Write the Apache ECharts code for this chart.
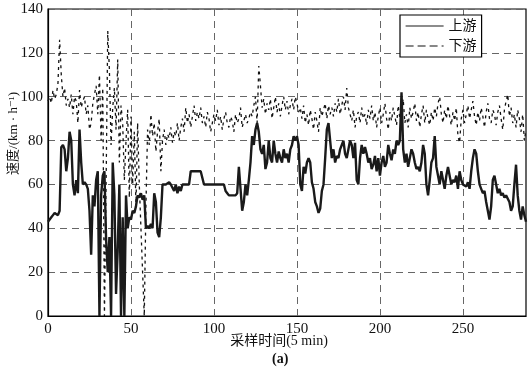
<!DOCTYPE html>
<html>
<head>
<meta charset="utf-8">
<script src="https://cdn.jsdelivr.net/npm/echarts@6/dist/echarts.min.js"></script>
<style>
  html, body { margin: 0; padding: 0; background: #fff; }
  #main { width: 532px; height: 373px; }
</style>
</head>
<body>
<div id="main"></div>
<script>
// sample index 0..288 (5 min steps)
const samples = [];
for (let i = 0; i <= 288; i++) samples.push(i);

// upstream speed (km/h)
const upstream = [
  43, 44, 45, 46, 47, 47, 46, 48, 77, 78, 76,
  66, 72, 84, 80, 60, 55, 62, 56, 85, 70,
  60, 61, 60, 58, 48, 28, 55, 50, 62, 66,
  0, 55, 64, 66, 35, 20, 36, 0, 70, 55,
  10, 30, 60, 0, 45, 0, 55, 40, 45, 44,
  48, 47, 50, 55, 54, 56, 53, 55, 40, 41,
  40, 42, 40, 56, 52, 38, 36, 45, 60, 60,
  60, 60, 61, 60, 60, 57, 60, 56, 59, 57,
  60, 60, 60, 60, 60, 66, 66, 66, 66, 66,
  66, 66, 66, 60, 60, 60, 60, 60, 60, 60,
  60, 60, 60, 60, 60, 60, 57, 56, 55, 55,
  55, 55, 55, 56, 68, 58, 48, 52, 60, 55,
  62, 70, 82, 78, 85, 88, 84, 76, 74, 78,
  67, 70, 80, 72, 70, 80, 74, 70, 75, 72,
  70, 76, 72, 74, 70, 76, 78, 82, 80, 82,
  78, 60, 57, 68, 65, 70, 72, 70, 61, 58,
  52, 50, 47, 49, 57, 60, 72, 85, 88, 80,
  72, 76, 70, 73, 72, 76, 78, 80, 74, 72,
  76, 80, 78, 72, 79, 62, 60, 72, 78, 74,
  77, 74, 70, 72, 67, 69, 73, 66, 72, 64,
  70, 73, 68, 70, 78, 74, 71, 76, 74, 80,
  78, 80, 102, 76, 70, 74, 68, 72, 76, 74,
  70, 67, 68, 66, 70, 78, 74, 60, 55, 62,
  70, 72, 82, 68, 64, 60, 66, 62, 58, 64,
  68, 64, 60, 62, 61, 64, 58, 66, 62, 60,
  60, 59, 61, 58, 66, 72, 76, 74, 66, 60,
  58, 56, 57, 52, 48, 44, 50, 62, 64, 60,
  56, 58, 55, 56, 54, 55, 55, 52, 48, 50,
  60, 69, 55, 48, 44, 50, 46, 43
];

// downstream speed (km/h)
const downstream = [
  98, 100, 97, 103, 99, 101, 106, 126, 110, 100, 104,
  96, 99, 95, 101, 92, 100, 98, 88, 103, 95,
  98, 100, 92, 96, 85, 88, 97, 101, 105, 92,
  110, 80, 104, 0, 60, 130, 112, 78, 95, 104,
  85, 117, 70, 96, 88, 62, 80, 94, 54, 91,
  60, 84, 50, 88, 60, 40, 20, 0, 50, 85,
  78, 92, 82, 88, 75, 84, 90, 66, 80, 85,
  78, 83, 81, 86, 79, 84, 82, 88, 80, 86,
  90, 84, 95, 88, 92, 86, 91, 96, 89, 93,
  90, 95, 88, 91, 86, 93, 90, 84, 88, 92,
  89, 94, 87, 91, 85, 90, 93, 88, 86, 91,
  89, 84, 92, 88, 90, 95, 86, 89, 92, 88,
  90, 93, 91, 96, 100, 88, 114, 105, 95, 99,
  92, 97, 94, 99, 90, 95, 100, 93, 97, 91,
  96, 100, 94, 98, 92, 96, 99, 94, 100, 97,
  93, 95, 90, 96, 88, 92, 87, 94, 90, 85,
  93, 89, 84, 95, 91, 94, 97, 90, 96, 92,
  95, 91, 97, 93, 99, 92, 96, 100, 94, 104,
  95, 92, 89, 94, 86, 91, 93, 88, 95, 90,
  92, 87, 94, 90, 96, 89, 93, 86, 91, 95,
  88, 92, 97, 90, 85, 93, 89, 95, 91, 87,
  96, 90, 94, 99, 88, 92, 86, 95, 90, 93,
  97, 89, 93, 86, 92, 96, 88, 94, 90, 87,
  93, 89, 95, 91, 97, 100, 92, 88, 94, 90,
  96, 91, 87, 93, 89, 95, 82, 79, 90, 94,
  88, 92, 96, 90, 94, 98, 91, 87, 93, 89,
  95, 91, 86, 93, 97, 90, 88, 94, 92, 87,
  93, 96, 90, 85, 94, 98, 101, 91, 95, 88,
  92, 86, 94, 90, 84, 92, 80, 85
];

const font = "'Liberation Serif', 'DejaVu Serif', 'Noto Sans CJK SC', serif";

const options = {
  animation: false,
  backgroundColor: "#fff",
  textStyle: { fontFamily: font, color: "#111" },
  title: {
    text: "(a)",
    left: 267,
    top: 347,
    textStyle: { fontFamily: font, fontSize: 14, fontWeight: "bold", color: "#111" },
  },
  grid: {
    left: 48, right: 6, top: 9, bottom: 57,
    containLabel: false,
    outerBoundsMode: "none",
    show: true, borderColor: "#000", borderWidth: 1.2,
  },
  legend: {
    show: true,
    orient: "vertical",
    left: 400,
    top: 15,
    padding: [4, 5],
    itemGap: 6,
    itemWidth: 38,
    itemHeight: 12,
    backgroundColor: "#fff",
    borderColor: "#000",
    borderWidth: 1.2,
    borderRadius: 0,
    itemStyle: { opacity: 0 },
    textStyle: { fontFamily: font, fontSize: 14, color: "#111" },
    data: [
      { name: "上游", lineStyle: { type: "solid", width: 1.2 } },
      { name: "下游", lineStyle: { type: [8, 4], width: 1.2 } },
    ],
  },
  xAxis: {
    type: "value",
    min: 0,
    max: 288,
    interval: 50,
    name: "采样时间(5 min)",
    nameLocation: "middle",
    nameGap: 18,
    nameMoveOverlap: false,
    nameTextStyle: { fontFamily: font, fontSize: 14, color: "#111", padding: [0, 16, 0, 0] },
    axisLine: { show: true, lineStyle: { color: "#000", width: 1.2 } },
    axisTick: { show: false },
    axisLabel: { fontFamily: font, fontSize: 15, color: "#111", margin: 6, showMaxLabel: false },
    splitLine: { show: true, lineStyle: { color: "#666", type: [7, 5], width: 1 } },
  },
  yAxis: {
    type: "value",
    min: 0,
    max: 140,
    interval: 20,
    name: "速度/(km · h⁻¹)",
    nameLocation: "middle",
    nameGap: 28,
    nameMoveOverlap: false,
    nameTextStyle: { fontFamily: font, fontSize: 13, color: "#111", padding: [0, 0, 0, 58] },
    axisLine: { show: true, lineStyle: { color: "#000", width: 1.2 } },
    axisTick: { show: false },
    axisLabel: { fontFamily: font, fontSize: 15, color: "#111", margin: 5 },
    splitLine: { show: true, lineStyle: { color: "#666", type: [7, 5], width: 1 } },
  },
  series: [
    {
      name: "上游",
      type: "line",
      symbol: "none",
      data: samples.map((x, i) => [x, upstream[i]]),
      lineStyle: { color: "#1a1a1a", width: 2.4 },
      itemStyle: { color: "#111" },
      z: 3,
    },
    {
      name: "下游",
      type: "line",
      symbol: "none",
      data: samples.map((x, i) => [x, downstream[i]]),
      lineStyle: { color: "#111", width: 1.3, type: [3, 4] },
      itemStyle: { color: "#111" },
      z: 2,
    },
  ],
};

let myChart = echarts.init(document.getElementById("main"));
myChart.setOption(options);
</script>
</body>
</html>
